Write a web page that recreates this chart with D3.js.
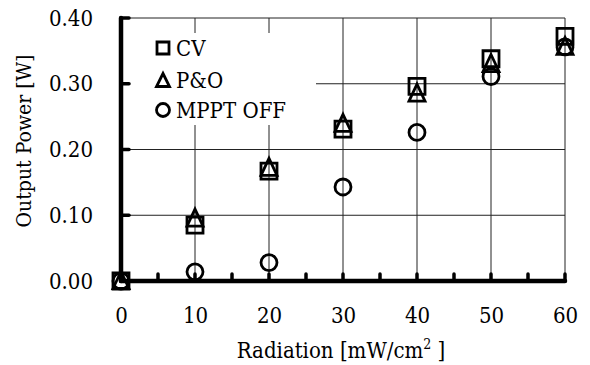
<!DOCTYPE html>
<html>
<head>
<meta charset="utf-8">
<script src="https://cdn.jsdelivr.net/npm/d3@7"></script>
<style>
  html, body { margin: 0; padding: 0; background: #fff; }
  svg { display: block; }
  text { font-family: "DejaVu Serif Condensed", "DejaVu Serif", serif; font-stretch: condensed; fill: #000; }
</style>
</head>
<body>
<svg id="chart" width="590" height="365"></svg>
<script>
// ---- data ----
const radiation = [0, 10, 20, 30, 40, 50, 60];
const cvPower   = [0.000, 0.085, 0.167, 0.231, 0.296, 0.338, 0.372];
const poPower   = [0.000, 0.095, 0.172, 0.239, 0.285, 0.330, 0.356];
const offPower  = [0.000, 0.014, 0.028, 0.143, 0.226, 0.311, 0.356];
const xTicks = [0, 10, 20, 30, 40, 50, 60];
const xMinorTicks = [5, 10, 15, 20, 25, 30, 35, 40, 45, 50, 55, 60];
const yTicks = [0.00, 0.10, 0.20, 0.30, 0.40];
const seriesNames = ["CV", "P&O", "MPPT OFF"];
const xTitle = "Radiation [mW/cm";
const yTitle = "Output Power [W]";

const FONT = '"DejaVu Serif Condensed", "DejaVu Serif", serif';

// ---- layout ----
const svg = d3.select("#chart");
const x = d3.scaleLinear().domain([0, 60]).range([121, 565]);
const y = d3.scaleLinear().domain([0, 0.4]).range([281, 18]);

// gridlines
const grid = svg.append("g").attr("stroke", "#222").attr("stroke-width", 1);
grid.selectAll(".vg").data(xTicks.filter(d => d > 0)).join("line")
  .attr("x1", d => x(d)).attr("x2", d => x(d))
  .attr("y1", y(0.4)).attr("y2", y(0));
grid.selectAll(".hg").data(yTicks.filter(d => d > 0)).join("line")
  .attr("x1", x(0)).attr("x2", x(60))
  .attr("y1", d => y(d)).attr("y2", d => y(d));

// legend background (covers gridlines)
svg.append("rect").attr("x", 128).attr("y", 33).attr("width", 188).attr("height", 92)
  .attr("fill", "#fff");

// axes lines
const axes = svg.append("g").attr("stroke", "#000").attr("stroke-linecap", "round");
axes.append("line").attr("x1", x(0)).attr("x2", x(0)).attr("y1", y(0.4)).attr("y2", y(0))
  .attr("stroke-width", 4.5);
axes.append("line").attr("x1", x(0)).attr("x2", x(60)).attr("y1", y(0)).attr("y2", y(0))
  .attr("stroke-width", 4.5);
axes.selectAll(".yt").data(yTicks.filter(d => d > 0)).join("line")
  .attr("x1", x(0)).attr("x2", x(0) + 8)
  .attr("y1", d => y(d)).attr("y2", d => y(d))
  .attr("stroke-width", 3.5);
axes.selectAll(".xt").data(xMinorTicks).join("line")
  .attr("x1", d => x(d)).attr("x2", d => x(d))
  .attr("y1", y(0)).attr("y2", y(0) - 7)
  .attr("stroke-width", 3.5);

// tick labels via d3 axes
const yAxis = svg.append("g").attr("transform", `translate(${x(0)},0)`)
  .call(d3.axisLeft(y).tickValues(yTicks).tickFormat(d3.format(".2f")).tickSize(0).tickPadding(28));
const xAxis = svg.append("g").attr("transform", `translate(0,${y(0)})`)
  .call(d3.axisBottom(x).tickValues(xTicks).tickFormat(d3.format("d")).tickSize(0).tickPadding(26));
[yAxis, xAxis].forEach(g => {
  g.select(".domain").remove();
  g.selectAll("text").attr("font-family", FONT).attr("font-size", 22).attr("fill", "#000");
});

// axis titles
const xt = svg.append("text").attr("x", 341).attr("y", 358).attr("text-anchor", "middle")
  .attr("font-size", 22);
xt.append("tspan").text(xTitle);
xt.append("tspan").attr("dy", -9).attr("font-size", 14).text("2");
xt.append("tspan").attr("dy", 9).text(" ]");

svg.append("text").attr("transform", "translate(31,141) rotate(-90)")
  .attr("text-anchor", "middle").attr("font-size", 21).text(yTitle);

// ---- markers ----
function squarePath(s) { const h = s / 2; return `M${-h},${-h}H${h}V${h}H${-h}Z`; }
function trianglePath(w, top, bot) { return `M0,${-top}L${w / 2},${bot}L${-w / 2},${bot}Z`; }

const marks = svg.append("g").attr("fill", "none").attr("stroke", "#000")
  .attr("stroke-width", 2.8).attr("stroke-linejoin", "miter");

marks.selectAll(".sq").data(radiation.map((r, i) => [r, cvPower[i]])).join("path")
  .attr("d", squarePath(16))
  .attr("transform", d => `translate(${x(d[0])},${y(d[1])})`);
marks.selectAll(".tr").data(radiation.map((r, i) => [r, poPower[i]])).join("path")
  .attr("d", trianglePath(16, 9.5, 7.5))
  .attr("transform", d => `translate(${x(d[0])},${y(d[1])})`);
marks.selectAll(".ci").data(radiation.map((r, i) => [r, offPower[i]])).join("circle")
  .attr("r", 8)
  .attr("cx", d => x(d[0])).attr("cy", d => y(d[1]));

// ---- legend ----
const legY = [48, 80, 110];
const leg = svg.append("g");
const lm = leg.append("g").attr("fill", "none").attr("stroke", "#000").attr("stroke-width", 2.8);
lm.append("path").attr("d", squarePath(12)).attr("transform", `translate(163,${legY[0]})`);
lm.append("path").attr("d", trianglePath(13, 7.5, 5.5)).attr("transform", `translate(163,${legY[1] + 1})`);
lm.append("circle").attr("cx", 163).attr("cy", legY[2]).attr("r", 6.5);
leg.selectAll("text").data(seriesNames).join("text")
  .attr("x", 176).attr("y", (d, i) => legY[i] + 8)
  .attr("font-size", 22).text(d => d);
</script>
</body>
</html>
